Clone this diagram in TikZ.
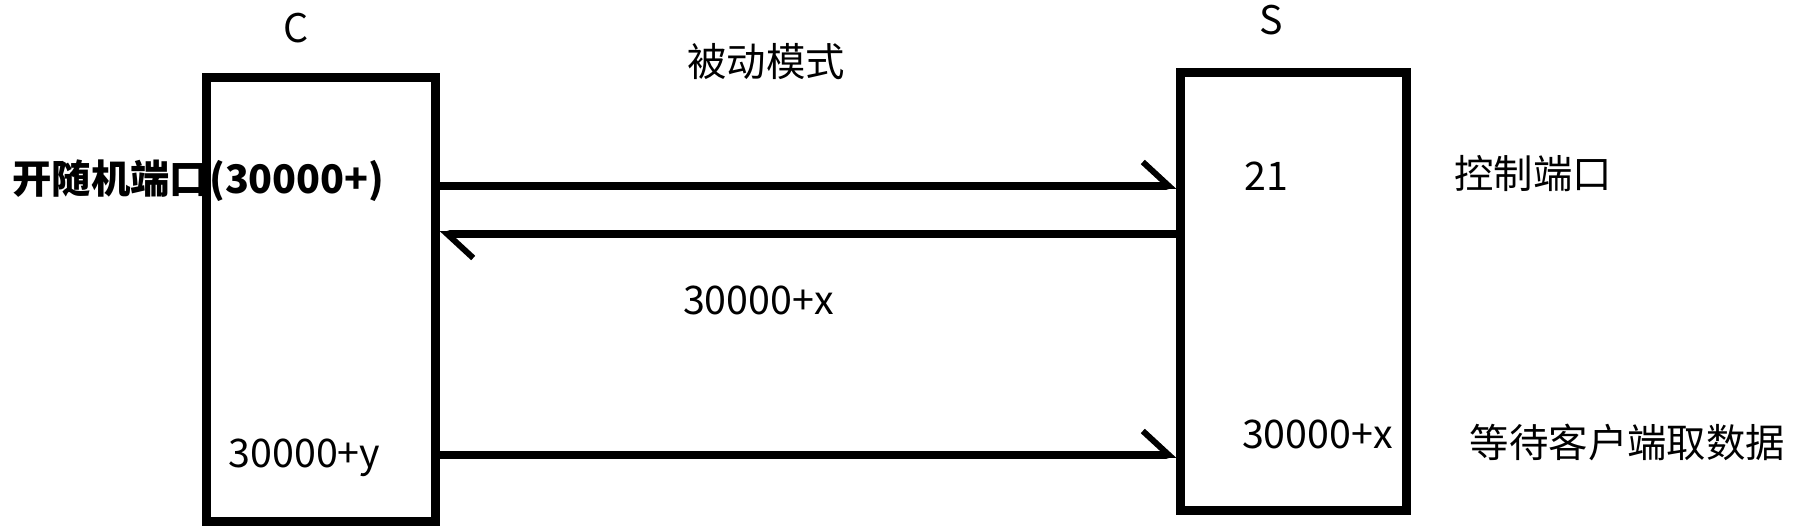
\documentclass[tikz,border=0pt]{standalone}
\usepackage{fontspec}
\setmainfont{Noto Sans CJK SC}
\usepackage{tikz}
\usetikzlibrary{positioning,arrows.meta}
\tikzstyle{block}=[rectangle, draw=black, line width=2.55pt, minimum width=2.28cm, minimum height=4.43cm]
\tikzstyle{txt}=[inner sep=0pt, text=black, font=\fontsize{11.2pt}{13pt}\selectfont]
\tikzstyle{link}=[line width=2.55pt, line cap=round,
-{Straight Barb[harpoon, length=0.26cm, width=0.48cm, line width=1.7pt]}]

\begin{document}
\begin{tikzpicture}[x=0.01cm, y=-0.01cm]
            \useasboundingbox (0,0) rectangle (1793,531);
            \node (1)[block] at (321,299.5) {};
            \node (2)[block, minimum width=2.25cm, minimum height=4.37cm] at (1293.5,291.5) {};
            \node (3)[txt, anchor=base] at (296.5,43) {C};
            \node (4)[txt, anchor=base] at (1271,35) {S};
            \node (5)[txt] at (766,61.5) {被动模式};
            \node (6)[txt] at (198.5,180.5) {\bfseries 开随机端口(30000+)};
            \node (7)[txt, anchor=base] at (1266.5,191) {21};
            \node (8)[txt] at (1533,174) {控制端口};
            \node (9)[txt, anchor=base] at (758.5,315) {30000+x};
            \node (10)[txt, anchor=base] at (304.5,468) {30000+y};
            \node (11)[txt, anchor=base] at (1317.5,449) {30000+x};
            \node (12)[txt] at (1627.5,442.5) {等待客户端取数据};
            \draw[link] (1.east |- 0,186) -- (2.west |- 0,186);
            \draw[link] (2.west |- 0,234) -- (1.east |- 0,234);
            \draw[link] (1.east |- 0,455) -- (2.west |- 0,455);
\end{tikzpicture}
\end{document}
